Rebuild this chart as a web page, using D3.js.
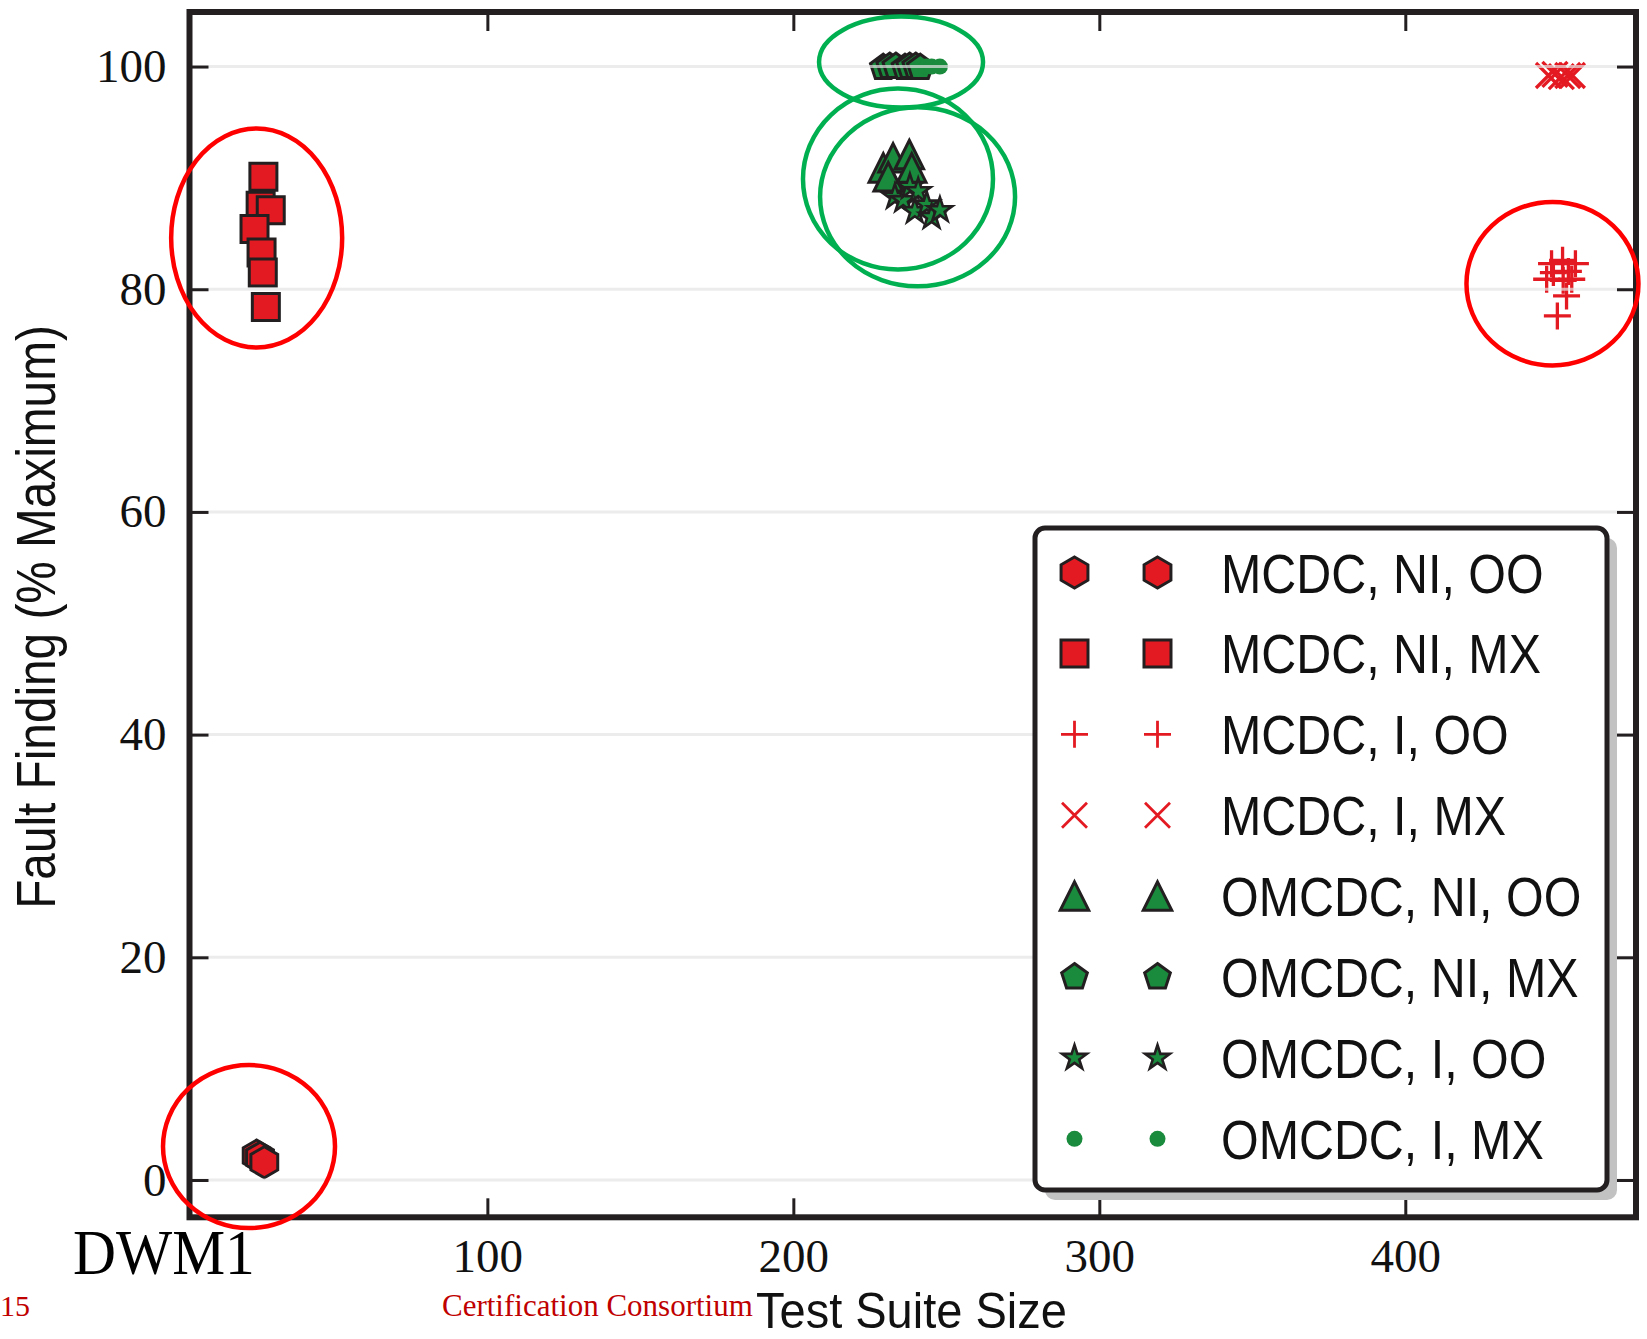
<!DOCTYPE html>
<html>
<head>
<meta charset="utf-8">
<script src="https://cdn.jsdelivr.net/npm/d3@7"></script>
<style>
  html, body { margin: 0; padding: 0; background: #ffffff; }
  svg { display: block; }
</style>
</head>
<body>
<svg id="chart" width="1647" height="1339"></svg>
<script>
// ---- data: test suite size vs. fault finding (% of maximum), DWM1 ----
const seriesNames = [
  "MCDC, NI, OO", "MCDC, NI, MX", "MCDC, I, OO", "MCDC, I, MX",
  "OMCDC, NI, OO", "OMCDC, NI, MX", "OMCDC, I, OO", "OMCDC, I, MX"
];

const mcdcNiOoSize   = [24.6, 25.7, 27.1];
const mcdcNiOoFault  = [2.2, 2.0, 1.6];

const mcdcNiMxSize   = [26.8, 25.9, 29.2, 23.9, 26.2, 26.6, 27.6];
const mcdcNiMxFault  = [90.1, 87.5, 87.1, 85.4, 83.3, 81.5, 78.4];

const mcdcIOoSize    = [449.7, 452.7, 446.2, 447.8, 451.4, 455.6, 453.3, 451.6, 448.4, 454.4];
const mcdcIOoFault   = [77.6, 79.4, 80.9, 82.3, 82.6, 82.3, 81.6, 80.8, 81.5, 80.9];

const mcdcIMxSize    = [446.8, 448.9, 451.0, 453.1, 454.6];
const mcdcIMxFault   = [99.2, 99.3, 99.1, 99.2, 99.2];

const omcdcNiOoSize  = [229.4, 232.6, 231.0, 237.9, 238.7];
const omcdcNiOoFault = [90.9, 91.8, 90.1, 92.1, 90.9];

const omcdcNiMxSize  = [229.4, 231.5, 233.5, 236.5, 238.0, 240.0, 241.5];
const omcdcNiMxFault = [99.9, 100.0, 100.0, 99.9, 100.0, 100.0, 99.9];

const omcdcIOoSize   = [233.2, 235.9, 238.1, 240.8, 239.7, 243.6, 245.2, 247.9];
const omcdcIOoFault  = [88.3, 88.0, 89.2, 88.8, 87.0, 87.6, 86.5, 87.1];

const omcdcIMxSize   = [243.5, 245.2, 247.9];
const omcdcIMxFault  = [100.0, 100.0, 100.0];

const xTickValues = [100, 200, 300, 400];
const yTickValues = [0, 20, 40, 60, 80, 100];

// highlighted clusters (centre in data units)
const redRingCentres   = [[24.6, 84.6], [22.1, 3.0], [448.1, 80.5]];
const greenRingCentres = [[235.2, 100.4], [234.2, 89.9], [240.6, 88.3]];

// ---- layout ----
const svg = d3.select("#chart");
const W = 1647, H = 1339;
const frame = { left: 189.5, right: 1636, top: 12, bottom: 1217.3 };

svg.append("rect").attr("width", W).attr("height", H).attr("fill", "#ffffff");

const x = d3.scaleLinear().domain([2.65, 475.4]).range([frame.left, frame.right]);
const y = d3.scaleLinear().domain([-3.35, 104.9]).range([frame.bottom, frame.top]);

const RED = "#e41a22", GREEN = "#1a8a3c", EDGE = "#231f20";

// ---- marker shapes ----
const polygon = (n) => ({
  draw(ctx, size) {
    const r = Math.sqrt(size);
    for (let i = 0; i < n; i++) {
      const a = i * 2 * Math.PI / n;
      const px = r * Math.sin(a), py = -r * Math.cos(a);
      if (i) ctx.lineTo(px, py); else ctx.moveTo(px, py);
    }
    ctx.closePath();
  }
});
const triangleUp = {
  draw(ctx, size) {
    const h = Math.sqrt(size) / 2;
    ctx.moveTo(0, -h); ctx.lineTo(h, h); ctx.lineTo(-h, h); ctx.closePath();
  }
};
const starShape = {
  draw(ctx, size) {
    const r = Math.sqrt(size), ri = r * 0.382;
    for (let i = 0; i < 10; i++) {
      const a = i * Math.PI / 5;
      const rr = i % 2 ? ri : r;
      const px = rr * Math.sin(a), py = -rr * Math.cos(a);
      if (i) ctx.lineTo(px, py); else ctx.moveTo(px, py);
    }
    ctx.closePath();
  }
};
const plusShape = {
  draw(ctx, size) {
    const h = Math.sqrt(size) / 2;
    ctx.moveTo(-h, 0); ctx.lineTo(h, 0); ctx.moveTo(0, -h); ctx.lineTo(0, h);
  }
};
const crossShape = {
  draw(ctx, size) {
    const h = Math.sqrt(size) / 2;
    ctx.moveTo(-h, -h); ctx.lineTo(h, h); ctx.moveTo(-h, h); ctx.lineTo(h, -h);
  }
};

const series = [
  { xs: mcdcNiOoSize,  ys: mcdcNiOoFault,  type: polygon(6), size: 15.5 * 15.5, fill: RED,   stroke: EDGE, sw: 3 },
  { xs: mcdcNiMxSize,  ys: mcdcNiMxFault,  type: d3.symbolSquare, size: 27 * 27, fill: RED, stroke: EDGE, sw: 3 },
  { xs: mcdcIOoSize,   ys: mcdcIOoFault,   type: plusShape,  size: 27 * 27, fill: "none", stroke: RED, sw: 3.3 },
  { xs: mcdcIMxSize,   ys: mcdcIMxFault,   type: crossShape, size: 25 * 25, fill: "none", stroke: RED, sw: 3.3 },
  { xs: omcdcNiOoSize, ys: omcdcNiOoFault, type: triangleUp, size: 28.5 * 28.5, fill: GREEN, stroke: EDGE, sw: 3 },
  { xs: omcdcNiMxSize, ys: omcdcNiMxFault, type: polygon(5), size: 13.5 * 13.5, fill: GREEN, stroke: EDGE, sw: 3 },
  { xs: omcdcIOoSize,  ys: omcdcIOoFault,  type: starShape,  size: 13 * 13, fill: GREEN, stroke: EDGE, sw: 2.6 },
  { xs: omcdcIMxSize,  ys: omcdcIMxFault,  type: d3.symbolCircle, size: Math.PI * 8 * 8, fill: GREEN, stroke: "none", sw: 0 }
].map((s, i) => ({ ...s, name: seriesNames[i] }));

// ---- scatter marks ----
const marks = svg.append("g").attr("class", "marks");
series.forEach(s => {
  const pts = s.xs.map((v, i) => [v, s.ys[i]]);
  marks.append("g")
    .selectAll("path")
    .data(pts)
    .join("path")
    .attr("transform", d => `translate(${x(d[0])},${y(d[1])})`)
    .attr("d", d3.symbol().type(s.type).size(s.size))
    .attr("fill", s.fill)
    .attr("stroke", s.stroke)
    .attr("stroke-width", s.sw)
    .attr("stroke-linejoin", "miter");
});

// ---- horizontal grid (drawn translucently over the marks) ----
svg.append("g")
  .selectAll("line")
  .data(yTickValues)
  .join("line")
  .attr("x1", frame.left).attr("x2", frame.right)
  .attr("y1", d => y(d)).attr("y2", d => y(d))
  .attr("stroke", "#e4e4e4")
  .attr("stroke-opacity", 0.7)
  .attr("stroke-width", 3);

// ---- axes: inward ticks on all four sides ----
const serif = "'Liberation Serif', 'Times New Roman', serif";
const styleAxis = g => {
  g.select(".domain").remove();
  g.selectAll(".tick line").attr("stroke", EDGE).attr("stroke-width", 3);
  g.selectAll(".tick text")
    .attr("font-family", serif)
    .attr("font-size", 47)
    .attr("fill", "#111111");
};

svg.append("g")
  .attr("transform", `translate(0,${frame.bottom})`)
  .call(d3.axisBottom(x).tickValues(xTickValues).tickSizeInner(-19).tickSizeOuter(0).tickPadding(21).tickFormat(d3.format("d")))
  .call(styleAxis);

svg.append("g")
  .attr("transform", `translate(0,${frame.top})`)
  .call(d3.axisTop(x).tickValues(xTickValues).tickSizeInner(-19).tickSizeOuter(0).tickFormat(""))
  .call(styleAxis);

svg.append("g")
  .attr("transform", `translate(${frame.left},0)`)
  .call(d3.axisLeft(y).tickValues(yTickValues).tickSizeInner(-19).tickSizeOuter(0).tickPadding(23).tickFormat(d3.format("d")))
  .call(styleAxis);

svg.append("g")
  .attr("transform", `translate(${frame.right},0)`)
  .call(d3.axisRight(y).tickValues(yTickValues).tickSizeInner(-19).tickSizeOuter(0).tickFormat(""))
  .call(styleAxis);

// plot frame
svg.append("rect")
  .attr("x", frame.left).attr("y", frame.top)
  .attr("width", frame.right - frame.left)
  .attr("height", frame.bottom - frame.top)
  .attr("fill", "none")
  .attr("stroke", EDGE)
  .attr("stroke-width", 6);

// ---- legend ----
const sans = "'Liberation Sans', Arial, Helvetica, sans-serif";
const condense = (sel, k) => sel.each(function () {
  const w = this.getComputedTextLength();
  d3.select(this).attr("textLength", w * k).attr("lengthAdjust", "spacingAndGlyphs");
});

const lg = { x: 1035, y: 528, w: 572, h: 662, row0: 572.5, rowStep: 80.9, col1: 1074.5, col2: 1157.5, textX: 1221 };
const legend = svg.append("g").attr("class", "legend");
legend.append("rect")
  .attr("x", lg.x + 10).attr("y", lg.y + 10)
  .attr("width", lg.w).attr("height", lg.h)
  .attr("rx", 10)
  .attr("fill", "#c2c2c2");
legend.append("rect")
  .attr("x", lg.x).attr("y", lg.y)
  .attr("width", lg.w).attr("height", lg.h)
  .attr("rx", 10)
  .attr("fill", "#ffffff")
  .attr("stroke", EDGE)
  .attr("stroke-width", 5);

const rows = legend.selectAll("g.row")
  .data(series)
  .join("g")
  .attr("class", "row")
  .attr("transform", (d, i) => `translate(0,${lg.row0 + i * lg.rowStep})`);

[lg.col1, lg.col2].forEach(cx => {
  rows.append("path")
    .attr("transform", `translate(${cx},0)`)
    .attr("d", d => d3.symbol().type(d.type).size(d.size)())
    .attr("fill", d => d.fill)
    .attr("stroke", d => d.stroke)
    .attr("stroke-width", d => d.fill === "none" ? 2.8 : d.sw);
});

rows.append("text")
  .attr("x", lg.textX)
  .attr("y", 20)
  .attr("font-family", sans)
  .attr("font-size", 55)
  .attr("fill", "#111111")
  .text(d => d.name)
  .call(condense, 0.88);

// ---- axis titles ----
svg.append("text")
  .attr("transform", `translate(55,617) rotate(-90)`)
  .attr("text-anchor", "middle")
  .attr("font-family", sans)
  .attr("font-size", 55)
  .attr("fill", "#111111")
  .text("Fault Finding (% Maximum)")
  .call(condense, 0.868);

// slide caption text underneath the axis title
svg.append("text")
  .attr("x", 0).attr("y", 1316)
  .attr("font-family", serif)
  .attr("font-size", 30)
  .attr("fill", "#c00000")
  .text("15");
svg.append("text")
  .attr("x", 442).attr("y", 1316)
  .attr("font-family", serif)
  .attr("font-size", 31)
  .attr("fill", "#c00000")
  .text("Certification Consortium");

svg.append("text")
  .attr("x", 756).attr("y", 1328)
  .attr("font-family", sans)
  .attr("font-size", 50)
  .attr("fill", "#111111")
  .text("Test Suite Size")
  .call(condense, 0.94);

svg.append("text")
  .attr("x", 73).attr("y", 1274)
  .attr("font-family", serif)
  .attr("font-size", 64)
  .attr("fill", "#000000")
  .text("DWM1")
  .call(condense, 0.93);

// ---- cluster highlight rings ----
const rings = svg.append("g").attr("fill", "none").attr("stroke-width", 4.5);
rings.selectAll("ellipse.red")
  .data(redRingCentres.map((c, i) => ({ c, r: [[85.5, 109.5], [86, 81.5], [86, 81.7]][i] })))
  .join("ellipse")
  .attr("class", "red")
  .attr("cx", d => x(d.c[0])).attr("cy", d => y(d.c[1]))
  .attr("rx", d => d.r[0]).attr("ry", d => d.r[1])
  .attr("stroke", "#ff0000");
rings.selectAll("ellipse.green")
  .data(greenRingCentres.map((c, i) => ({ c, r: [[82, 45.5], [95, 90.5], [97.5, 89.5]][i] })))
  .join("ellipse")
  .attr("class", "green")
  .attr("cx", d => x(d.c[0])).attr("cy", d => y(d.c[1]))
  .attr("rx", d => d.r[0]).attr("ry", d => d.r[1])
  .attr("stroke", "#00b050");
</script>
</body>
</html>
